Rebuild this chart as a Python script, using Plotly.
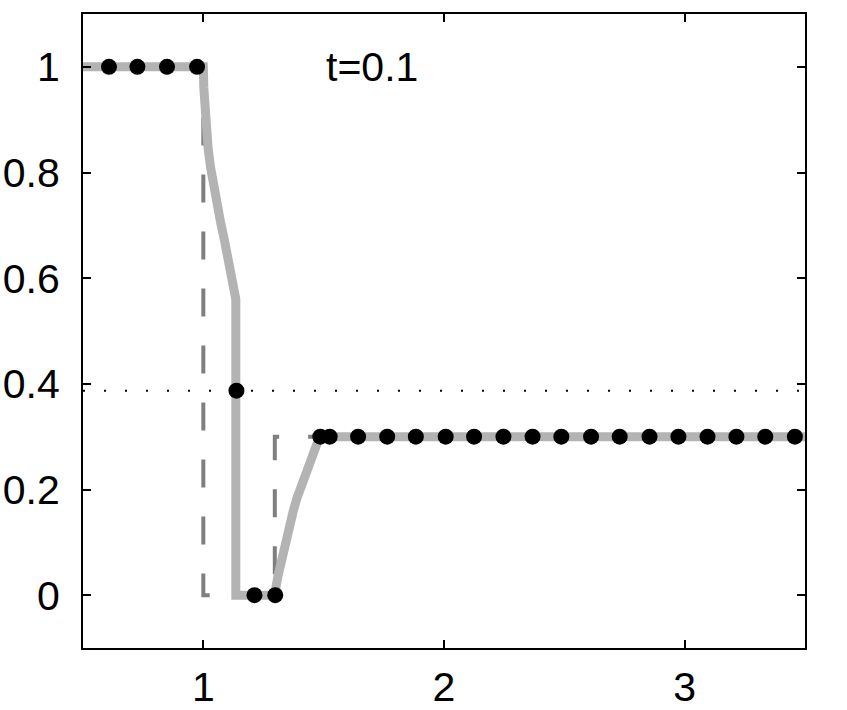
import plotly.graph_objects as go

# Solution curve (gray)
sol_x = [0.5, 1.0, 1.002, 1.006, 1.012, 1.02, 1.03, 1.042, 1.056, 1.072, 1.088, 1.104, 1.118, 1.128, 1.133, 1.135, 1.135,
         1.296, 1.31, 1.325, 1.341, 1.358, 1.374, 1.39, 1.406, 1.421, 1.437, 1.452, 1.468, 1.483, 3.5]
sol_y = [1.0, 1.0, 0.96, 0.92, 0.88, 0.845, 0.81, 0.775, 0.74, 0.705, 0.671, 0.638, 0.608, 0.585, 0.57, 0.56, 0.0,
         0.0, 0.036, 0.07, 0.102, 0.133, 0.16, 0.185, 0.207, 0.228, 0.248, 0.266, 0.284, 0.3, 0.3]

# Initial condition (dashed)
init_x = [0.5, 1.0, 1.0, 1.297, 1.297, 3.5]
init_y = [1.0, 1.0, 0.0, 0.0, 0.3, 0.3]

# Particles (dots)
pt_x = [0.608, 0.726, 0.849, 0.974, 1.1375, 1.2125, 1.2988, 1.486, 1.525, 1.643, 1.764, 1.883,
        2.007, 2.125, 2.247, 2.368, 2.4875, 2.611, 2.730, 2.854, 2.974, 3.095, 3.215, 3.335, 3.458]
pt_y = [1.0, 1.0, 1.0, 1.0, 0.387, 0.0, 0.0, 0.3, 0.3, 0.3, 0.3, 0.3,
        0.3, 0.3, 0.3, 0.3, 0.3, 0.3, 0.3, 0.3, 0.3, 0.3, 0.3, 0.3, 0.3]

# Reference level (dotted)
ref_level = 0.387
x_range = [0.5, 3.5]
y_range = [-0.1, 1.1]
x_ticks = [1, 2, 3]
y_ticks = [0, 0.2, 0.4, 0.6, 0.8, 1]
y_ticktext = ["0", "0.2", "0.4", "0.6", "0.8", "1"]
label = "t=0.1"

FONT = "Liberation Sans"

fig = go.Figure()
fig.add_trace(go.Scatter(x=x_range, y=[ref_level, ref_level], mode="lines",
                         line=dict(color="black", width=2, dash="2px,19px"), hoverinfo="skip"))
fig.add_trace(go.Scatter(x=init_x, y=init_y, mode="lines",
                         line=dict(color="#7f7f7f", width=4, dash="28px,29px")))
fig.add_trace(go.Scatter(x=sol_x, y=sol_y, mode="lines",
                         line=dict(color="#b3b3b3", width=9)))
fig.add_trace(go.Scatter(x=pt_x, y=pt_y, mode="markers",
                         marker=dict(color="black", size=16, line=dict(width=0))))

fig.add_annotation(x=1.7, y=1.0, text=label, showarrow=False, xanchor="center", yanchor="middle",
                   font=dict(size=41, color="black", family=FONT))

axis_common = dict(showgrid=False, zeroline=False, showline=True, linecolor="black", linewidth=2,
                   mirror="ticks", ticks="inside", ticklen=8, tickwidth=2, tickcolor="black",
                   automargin=False,
                   tickfont=dict(size=41, color="black", family=FONT))
fig.update_xaxes(range=x_range, tickvals=x_ticks, ticktext=[str(v) for v in x_ticks],
                 ticklabelstandoff=2, **axis_common)
fig.update_yaxes(range=y_range, tickvals=y_ticks, ticktext=y_ticktext,
                 ticklabelstandoff=13, **axis_common)

fig.update_layout(width=847, height=710, showlegend=False,
                  margin=dict(l=83, r=42, t=14, b=62),
                  plot_bgcolor="white", paper_bgcolor="white")

fig.write_html("out.html", config={"displayModeBar": False},
               post_script="document.body.style.margin='0';document.body.style.overflow='hidden';")
